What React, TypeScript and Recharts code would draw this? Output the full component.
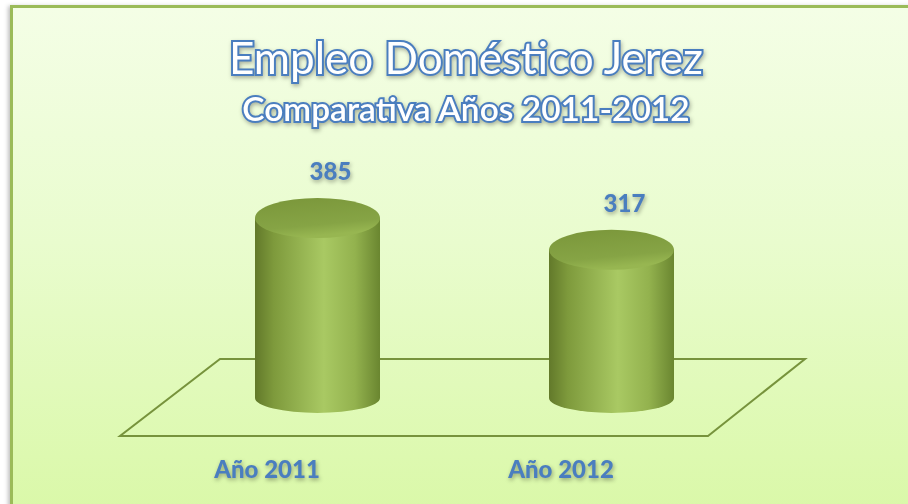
import React from "react";
import { BarChart, Bar, XAxis, YAxis, LabelList, Customized, usePlotArea } from "recharts";

// datos del gráfico
const years = ["Año 2011", "Año 2012"];
const values = [385, 317];

const chartData = years.map((year, i) => ({ year, value: values[i] }));

const BLUE = "#4a7ebf";
const TITLE = "Empleo Doméstico Jerez";
const SUBTITLE = "Comparativa Años 2011-2012";

// cilindro 3D
const Cylinder = (props: any) => {
  const { x, y, width, height } = props;
  if (!width || height == null) return null;
  const rxTop = width / 2;
  const ryTop = 20;
  const ryBot = 15;
  const cx = x + rxTop;
  const yb = y + height;
  const body = `M ${x} ${y} L ${x} ${yb} A ${rxTop} ${ryBot} 0 0 0 ${x + width} ${yb} L ${x + width} ${y} Z`;
  return (
    <g>
      <path d={body} fill="url(#cylBody)" />
      <ellipse cx={cx} cy={y} rx={rxTop} ry={ryTop} fill="url(#cylTop)" />
    </g>
  );
};

// suelo en perspectiva
const Floor = () => {
  const pa = usePlotArea();
  if (!pa) return null;
  const base = pa.y + pa.height;
  const left = pa.x;
  const right = pa.x + pa.width;
  const back = base - 39;
  const front = base + 38;
  const pts = `${left + 50},${back} ${right + 47},${back} ${right - 50},${front} ${left - 50},${front}`;
  return <polygon points={pts} fill="none" stroke="#77933c" strokeWidth={2} />;
};

const Titles = () => (
  <g style={{ filter: "drop-shadow(1px 2px 2px rgba(0,0,0,0.3))" }}>
    <text
      x={466}
      y={74}
      textAnchor="middle"
      fontFamily="Lato, 'Open Sans', sans-serif"
      fontSize={44}
      fill="#ffffff"
      stroke={BLUE}
      strokeWidth={4}
      style={{ paintOrder: "stroke" }}
    >
      {TITLE}
    </text>
    <text
      x={466}
      y={121}
      textAnchor="middle"
      fontFamily="Lato, 'Open Sans', sans-serif"
      fontWeight={600}
      fontSize={33.5}
      fill="#ffffff"
      stroke={BLUE}
      strokeWidth={4}
      style={{ paintOrder: "stroke" }}
    >
      {SUBTITLE}
    </text>
  </g>
);

const YearTick = (props: any) => {
  const { x, y, payload } = props;
  return (
    <text
      x={x - 50}
      y={y + 72}
      textAnchor="middle"
      fontFamily="Lato, sans-serif"
      fontWeight={900}
      fontSize={24}
      fill={BLUE}
      style={{ filter: "drop-shadow(1px 2px 2px rgba(0,0,0,0.35))" }}
    >
      {payload.value}
    </text>
  );
};

const ValueLabel = (props: any) => {
  const { x, y, width, value } = props;
  return (
    <text
      x={x + width / 2 + 13}
      y={y - 38}
      textAnchor="middle"
      fontFamily="Lato, sans-serif"
      fontWeight={900}
      fontSize={24}
      fill={BLUE}
      style={{ filter: "drop-shadow(1px 2px 2px rgba(0,0,0,0.35))" }}
    >
      {value}
    </text>
  );
};

export default function App() {
  return (
    <div
      style={{
        position: "absolute",
        left: 0,
        top: 0,
        width: 908,
        height: 504,
        overflow: "hidden",
        background: "#ffffff",
      }}
    >
      <div
        style={{
          position: "absolute",
          left: 10,
          top: 5,
          width: 920,
          height: 520,
          border: "3px solid #9bbb59",
          background: "linear-gradient(to bottom, #f4fee6 0%, #e9fcce 45%, #d9f8a6 100%)",
          boxShadow: "-2px 1px 4px rgba(0,0,0,0.25)",
        }}
      />
      <div style={{ position: "absolute", left: 0, top: 0 }}>
        <BarChart
          width={908}
          height={504}
          data={chartData}
          margin={{ top: 211, right: 150, bottom: 76, left: 170 }}
        >
          <defs>
            <linearGradient id="cylBody" x1="0" y1="0" x2="1" y2="0">
              <stop offset="0%" stopColor="#62792a" />
              <stop offset="15%" stopColor="#7e9a3c" />
              <stop offset="55%" stopColor="#a9c963" />
              <stop offset="80%" stopColor="#93b24e" />
              <stop offset="100%" stopColor="#6a8630" />
            </linearGradient>
            <linearGradient id="cylTop" x1="0" y1="0" x2="0.3" y2="1">
              <stop offset="0%" stopColor="#7a963a" />
              <stop offset="75%" stopColor="#86a445" />
              <stop offset="100%" stopColor="#97b651" />
            </linearGradient>
          </defs>
          <Customized component={Titles} />
          <Customized component={Floor} />
          <XAxis
            dataKey="year"
            axisLine={false}
            tickLine={false}
            height={30}
            tick={<YearTick />}
          />
          <YAxis hide domain={[0, 400]} />
          <Bar dataKey="value" barSize={125} shape={<Cylinder />} isAnimationActive={false}>
            <LabelList dataKey="value" content={<ValueLabel />} />
          </Bar>
        </BarChart>
      </div>
    </div>
  );
}
